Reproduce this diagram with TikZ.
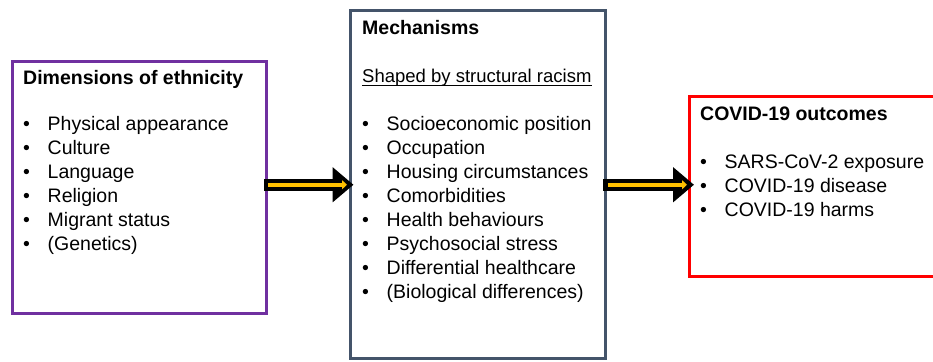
\documentclass[tikz,border=0pt]{standalone}
\usepackage{fontspec}
\setmainfont{Liberation Sans}
\usetikzlibrary{arrows.meta}

\definecolor{ethpurple}{HTML}{7030A0}
\definecolor{mechslate}{HTML}{44546A}
\definecolor{outred}{HTML}{FF0000}
\definecolor{arrowgold}{HTML}{FFC000}

\newcommand{\panelfont}{\fontsize{19.5}{24}\selectfont}
\newcommand{\bul}{\makebox[24.5pt][l]{\textbullet}}

\tikzset{
  panel/.style={draw, line width=3pt, inner sep=0pt, outer sep=0pt},
  heading/.style={anchor=base west, inner sep=0pt, font=\panelfont\bfseries},
  entry/.style={anchor=base west, inner sep=0pt, font=\panelfont},
  shaft/.style={line width=12.5pt, -{Triangle[length=21pt,width=34pt]}},
  glow/.style={arrowgold, line width=4.5pt, -{Triangle[length=5pt,width=9pt]}},
}

\begin{document}
\begin{tikzpicture}[x=1pt, y=-1pt]
  \useasboundingbox (0,0) rectangle (933,361);
  \clip (0,0) rectangle (933,361);
  % the three panels
  \node [panel, draw=ethpurple, minimum width=253.5pt, minimum height=252pt] (ethnicity) at (139.25,187) {};
  \node [panel, draw=mechslate, minimum width=254.5pt, minimum height=347.5pt] (mechanisms) at (477.75,184.75) {};
  \node [panel, draw=outred, minimum width=260.5pt, minimum height=180pt] (outcomes) at (819.75,186) {};

  % left panel
  \node [heading] (ethtitle) at (23,84) {Dimensions of ethnicity};
  \foreach \txt [count=\i] in {Physical appearance, Culture, Language, Religion, Migrant status, {(Genetics)}}
    \node [entry] (eth\i) at (23,{106+24*\i}) {\bul\txt};

  % middle panel
  \node [heading] (mechtitle) at (362,35) {Mechanisms};
  \node [entry, font=\fontsize{18.5}{24}\selectfont] (shaped) at (362,82) {Shaped by structural racism};
  \draw [line width=1pt] ([yshift=-3.5pt]shaped.base west) -- ([yshift=-3.5pt]shaped.base east);
  \foreach \txt [count=\i] in {Socioeconomic position, Occupation, Housing circumstances, Comorbidities, Health behaviours, Psychosocial stress, Differential healthcare, {(Biological differences)}}
    \node [entry] (mech\i) at (362,{106+24*\i}) {\bul\txt};

  % right panel
  \node [heading] (outtitle) at (700,120) {COVID-19 outcomes};
  \foreach \txt [count=\i] in {SARS-CoV-2 exposure, COVID-19 disease, COVID-19 harms}
    \node [entry] (out\i) at (700,{144+24*\i}) {\bul\txt};

  % arrows between the panels
  \draw [shaft, shorten <=-2pt, shorten >=-3pt] (ethnicity.east |- mechanisms.west) -- (mechanisms.west);
  \draw [glow, shorten <=2pt, shorten >=3.5pt] (ethnicity.east |- mechanisms.west) -- (mechanisms.west);
  \draw [shaft, shorten <=-2pt, shorten >=-4.5pt] (mechanisms.east) -- (mechanisms.east -| outcomes.west);
  \draw [glow, shorten <=3pt, shorten >=2.5pt] (mechanisms.east) -- (mechanisms.east -| outcomes.west);
\end{tikzpicture}
\end{document}
